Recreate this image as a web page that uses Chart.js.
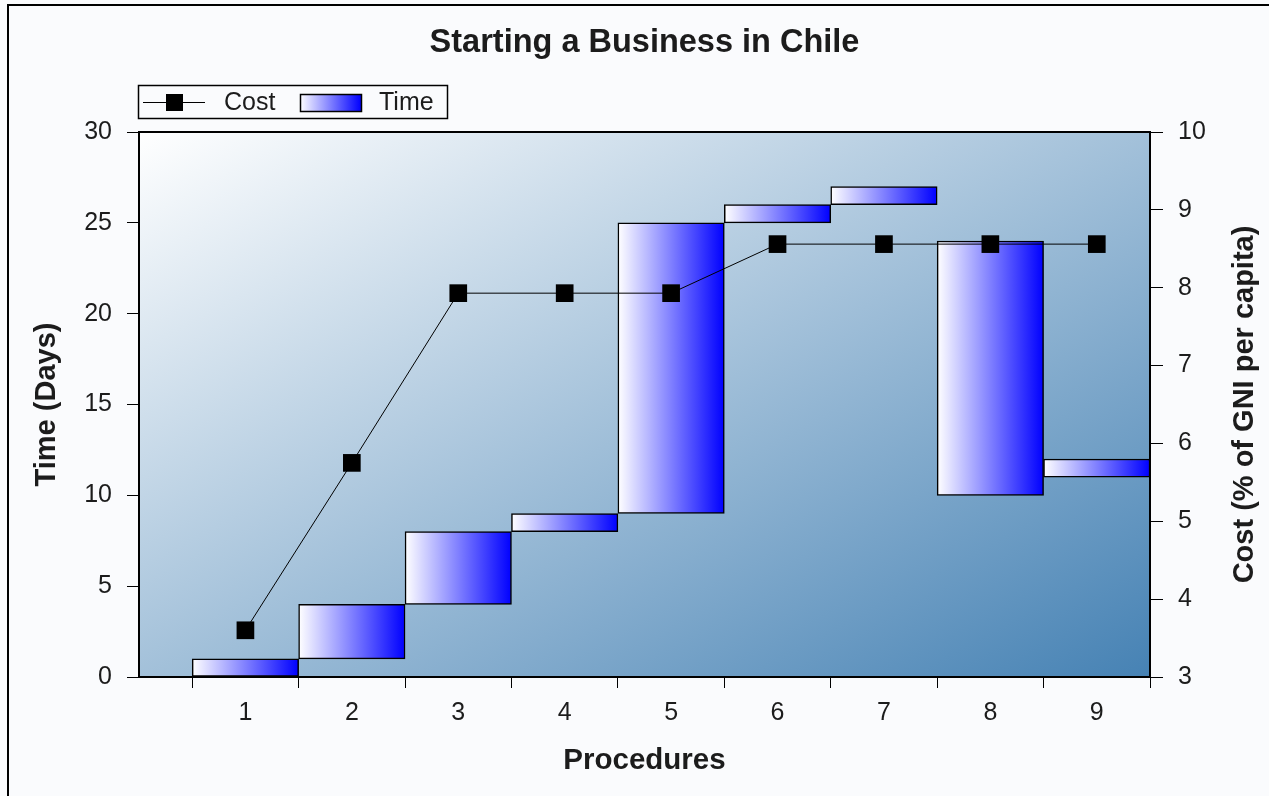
<!DOCTYPE html>
<html>
<head>
<meta charset="utf-8">
<title>Starting a Business in Chile</title>
<script src="https://cdn.jsdelivr.net/npm/chart.js@4/dist/chart.umd.min.js"></script>
<style>
  html, body { margin: 0; padding: 0; background: #fafbfd; }
  canvas { display: block; }
</style>
</head>
<body>
<canvas id="chart" width="1269" height="796"></canvas>
<script>
// ---- data ----
const procedures = [1, 2, 3, 4, 5, 6, 7, 8, 9];
const timeStart  = [0, 1, 4, 8, 9, 25, 26, 10, 11];   // day each procedure starts
const timeEnd    = [1, 4, 8, 9, 25, 26, 27, 24, 12];  // day each procedure ends
const costPct    = [3.6, 5.75, 7.93, 7.93, 7.93, 8.56, 8.56, 8.56, 8.56];
const timeTicks  = [0, 5, 10, 15, 20, 25, 30];
const costTicks  = [3, 4, 5, 6, 7, 8, 9, 10];

const chartTitle    = 'Starting a Business in Chile';
const timeAxisTitle = 'Time (Days)';
const costAxisTitle = 'Cost (% of GNI per capita)';
const procAxisTitle = 'Procedures';

// ---- look ----
const FONT = "'Liberation Sans', Arial, Helvetica, sans-serif";
const INK = '#1c1c1c';
const PAGE_BG = '#fafbfd';
const X_MIN = 0, X_MAX = 9.5;
const PLOT = { left: 139, right: 1150, top: 132, bottom: 677 };
const HALF_SLOT = (PLOT.right - PLOT.left) / (X_MAX - X_MIN) / 2;

function barGradient(ctx2d, l, r) {
  const g = ctx2d.createLinearGradient(l, 0, r, 0);
  g.addColorStop(0, '#ffffff');
  g.addColorStop(1, '#0000ff');
  return g;
}

// page background, plot gradient, frame, legend and right-hand axis title
const decorations = {
  id: 'decorations',
  beforeDraw(chart) {
    const { ctx, chartArea: a, width, height } = chart;
    ctx.save();
    ctx.fillStyle = PAGE_BG;
    ctx.fillRect(0, 0, width, height);

    // diagonal white -> steel blue wash across the plot
    const w = a.right - a.left, h = a.bottom - a.top, L2 = w * w + h * h;
    const g = ctx.createLinearGradient(a.left, a.top,
      a.left + 2 * w * h * h / L2, a.top + 2 * w * w * h / L2);
    g.addColorStop(0, '#ffffff');
    g.addColorStop(1, '#4682b4');
    ctx.fillStyle = g;
    ctx.fillRect(a.left, a.top, w, h);

    // outer frame (left and top edges)
    ctx.fillStyle = '#000';
    ctx.fillRect(7, 4, 2, height - 4);
    ctx.fillRect(7, 4, width - 7, 2);
    ctx.restore();
  },
  afterDraw(chart) {
    const { ctx, chartArea: a } = chart;
    ctx.save();
    // top edge of the plot
    ctx.fillStyle = '#000';
    ctx.fillRect(a.left - 1, a.top - 1, a.right - a.left + 2, 2);

    // legend
    const costDs = chart.data.datasets[1];
    const timeDs = chart.data.datasets[0];
    const lx = a.left - 1, ly = 85;
    ctx.fillStyle = PAGE_BG;
    ctx.fillRect(lx, ly, 310, 34);
    ctx.strokeStyle = '#000';
    ctx.lineWidth = 1.5;
    ctx.strokeRect(lx + 0.5, ly + 0.5, 309, 33);
    const cy = ly + 17.5;
    ctx.lineWidth = 1;
    ctx.beginPath();
    ctx.moveTo(lx + 5, cy); ctx.lineTo(lx + 67, cy);
    ctx.stroke();
    ctx.fillStyle = '#000';
    ctx.fillRect(lx + 28, cy - 8.5, 17, 17);
    ctx.font = '25px ' + FONT;
    ctx.textBaseline = 'middle';
    ctx.textAlign = 'left';
    ctx.fillStyle = INK;
    ctx.fillText(costDs.label, lx + 86, cy + 1);
    const sx = lx + 162, sw = 61;
    ctx.fillStyle = barGradient(ctx, sx, sx + sw);
    ctx.fillRect(sx, ly + 9, sw, 17);
    ctx.strokeStyle = '#000';
    ctx.lineWidth = 1.5;
    ctx.strokeRect(sx + 0.5, ly + 9.5, sw, 17);
    ctx.fillStyle = INK;
    ctx.fillText(timeDs.label, lx + 241, cy + 1);

    // right-hand axis title, reading bottom to top
    ctx.translate(1245, (a.top + a.bottom) / 2);
    ctx.rotate(-Math.PI / 2);
    ctx.font = 'bold 29px ' + FONT;
    ctx.textAlign = 'center';
    ctx.fillStyle = INK;
    ctx.fillText(costAxisTitle, 0, 0);
    ctx.restore();
  }
};

const tickGrid = (len) => ({
  display: true,
  drawOnChartArea: false,
  drawTicks: true,
  offset: false,
  tickLength: len,
  tickColor: '#000',
  tickWidth: 1
});
const axisBorder = { display: true, color: '#000', width: 2 };

new Chart(document.getElementById('chart'), {
  type: 'bar',
  data: {
    datasets: [
      {
        type: 'bar',
        label: 'Time',
        data: procedures.map((p, i) => ({ x: p, y: [timeStart[i], timeEnd[i]] })),
        xAxisID: 'x',
        yAxisID: 'y',
        backgroundColor(c) {
          const xs = c.chart.scales.x;
          if (!xs || c.type !== 'data') return '#8080ff';
          const p = procedures[c.dataIndex];
          const l = xs.getPixelForValue(p - 0.5), r = xs.getPixelForValue(p + 0.5);
          if (!isFinite(l) || !isFinite(r) || l === r) return '#8080ff';
          return barGradient(c.chart.ctx, l, r);
        },
        borderColor: '#000',
        borderWidth: 1.5,
        borderSkipped: false,
        barPercentage: 1,
        categoryPercentage: 1,
        order: 1
      },
      {
        type: 'line',
        label: 'Cost',
        data: procedures.map((p, i) => ({ x: p, y: costPct[i] })),
        xAxisID: 'x',
        yAxisID: 'y2',
        borderColor: '#000',
        borderWidth: 1,
        tension: 0,
        fill: false,
        pointStyle: 'rect',
        pointRadius: 12.5,
        pointHoverRadius: 12.5,
        pointBackgroundColor: '#000',
        pointBorderColor: '#000',
        pointBorderWidth: 0,
        order: 0
      }
    ]
  },
  options: {
    responsive: false,
    devicePixelRatio: 1,
    animation: false,
    events: [],
    layout: { padding: 0 },
    plugins: {
      legend: { display: false },
      tooltip: { enabled: false },
      title: {
        display: true,
        text: chartTitle,
        fullSize: false,
        color: INK,
        font: { family: FONT, size: 32.5, weight: 'bold', lineHeight: 1.2 },
        padding: { top: 24, bottom: 132 - 24 - 39 }
      }
    },
    scales: {
      x: {
        type: 'linear',
        position: 'bottom',
        offset: false,
        min: X_MIN,
        max: X_MAX,
        afterBuildTicks(s) {
          // tick marks sit on the slot boundaries; labels are shifted to slot centres
          s.ticks = procedures.map(p => ({ value: p - 0.5 })).concat([{ value: procedures[procedures.length - 1] + 0.5 }]);
        },
        afterFit(s) { s.height = 796 - PLOT.bottom; },
        grid: tickGrid(11),
        border: axisBorder,
        ticks: {
          autoSkip: false,
          maxRotation: 0,
          padding: 10,
          labelOffset: HALF_SLOT,
          color: INK,
          font: { family: FONT, size: 25 },
          callback: (v, i) => (i < procedures.length ? String(procedures[i]) : '')
        },
        title: {
          display: true,
          text: procAxisTitle,
          color: INK,
          font: { family: FONT, size: 29.5, weight: 'bold', lineHeight: 1.2 },
          padding: { top: 0, bottom: 17 }
        }
      },
      y: {
        type: 'linear',
        position: 'left',
        min: timeTicks[0],
        max: timeTicks[timeTicks.length - 1],
        afterBuildTicks(s) { s.ticks = timeTicks.map(v => ({ value: v })); },
        afterFit(s) { s.width = PLOT.left; },
        grid: tickGrid(12),
        border: axisBorder,
        ticks: {
          padding: 15,
          color: INK,
          font: { family: FONT, size: 25 }
        },
        title: {
          display: true,
          text: timeAxisTitle,
          color: INK,
          font: { family: FONT, size: 29, weight: 'bold', lineHeight: 1.2 },
          padding: { top: 30, bottom: 0 }
        }
      },
      y2: {
        type: 'linear',
        position: 'right',
        min: costTicks[0],
        max: costTicks[costTicks.length - 1],
        afterBuildTicks(s) { s.ticks = costTicks.map(v => ({ value: v })); },
        afterFit(s) { s.width = 1269 - PLOT.right; },
        grid: tickGrid(13),
        border: axisBorder,
        ticks: {
          padding: 15,
          color: INK,
          font: { family: FONT, size: 25 }
        }
      }
    }
  },
  plugins: [decorations]
});
</script>
</body>
</html>
